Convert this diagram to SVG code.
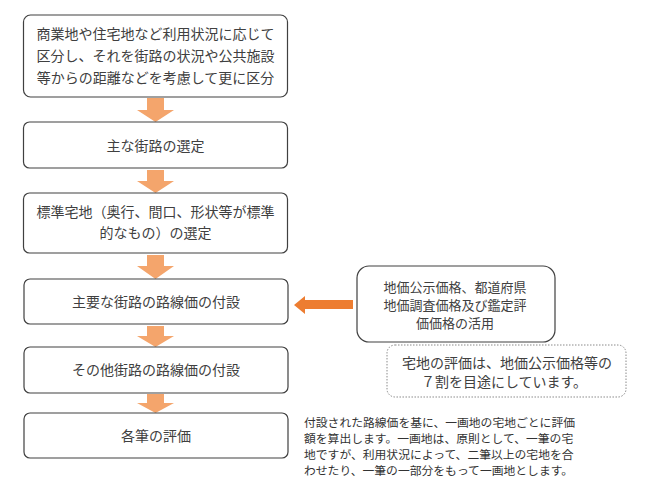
<svg xmlns="http://www.w3.org/2000/svg" width="650" height="482" viewBox="0 0 650 482">
<style>
.box{fill:#fff;stroke:#404040;stroke-width:1.2}
.dot{fill:#fff;stroke:#8a8a8a;stroke-width:1;stroke-dasharray:1.5 1.5}
.t{font-family:"Noto Sans CJK JP","Noto Sans CJK SC",sans-serif;font-size:14px;fill:#404040;text-anchor:middle;dominant-baseline:central}
.t2{font-size:13px}
.s{font-family:"Noto Sans CJK JP","Noto Sans CJK SC",sans-serif;font-size:11.8px;fill:#333;dominant-baseline:central}
.da{fill:#F4A56C}
.la{fill:#ED7D31}
</style>
<rect width="650" height="482" fill="#fff"/>
<g id="connectors">
<polygon class="da" points="147,98 164,98 164,110 174,110 155.5,122 137,110 147,110"/>
<polygon class="da" points="147,170 164,170 164,181 174,181 155.5,193 137,181 147,181"/>
<polygon class="da" points="147,255 164,255 164,266 174,266 155.5,279 137,266 147,266"/>
<polygon class="da" points="147,326 164,326 164,336 174,336 155.5,347 137,336 147,336"/>
<polygon class="da" points="147,394 164,394 164,403 174,403 155.5,413 137,403 147,403"/>
<polygon class="la" points="353,300 353,309 305,309 305,314 294,305 305,296 305,300"/>
</g>
<g id="n1">
<rect class="box" x="23.5" y="15" width="264" height="82" rx="7"/>
<text class="t" x="155.5" y="33">商業地や住宅地など利用状況に応じて</text>
<text class="t" x="155.5" y="55">区分し、それを街路の状況や公共施設</text>
<text class="t" x="155.5" y="77">等からの距離などを考慮して更に区分</text>
</g>
<g id="n2">
<rect class="box" x="23.5" y="122" width="264" height="46" rx="6"/>
<text class="t" x="155.5" y="145">主な街路の選定</text>
</g>
<g id="n3">
<rect class="box" x="23.5" y="193" width="264" height="60" rx="6"/>
<text class="t" x="155.5" y="211">標準宅地（奥行、間口、形状等が標準</text>
<text class="t" x="155.5" y="232">的なもの）の選定</text>
</g>
<g id="n4">
<rect class="box" x="24" y="279" width="264" height="45" rx="6"/>
<text class="t" x="156" y="301">主要な街路の路線価の付設</text>
</g>
<g id="n5">
<rect class="box" x="24" y="347" width="264" height="46" rx="6"/>
<text class="t" x="156" y="369">その他街路の路線価の付設</text>
</g>
<g id="n6">
<rect class="box" x="24" y="413" width="264" height="45" rx="6"/>
<text class="t" x="156" y="435">各筆の評価</text>
</g>
<g id="n7">
<rect class="box" x="357" y="266" width="198" height="76" rx="12"/>
<text class="t t2" x="455" y="286">地価公示価格、都道府県</text>
<text class="t t2" x="455" y="304">地価調査価格及び鑑定評</text>
<text class="t t2" x="455" y="322">価価格の活用</text>
</g>
<g id="n8">
<rect class="dot" x="387" y="345" width="239" height="52" rx="8"/>
<text class="t" x="507" y="362">宅地の評価は、地価公示価格等の</text>
<text class="t" x="504" y="381">７割を目途にしています。</text>
</g>
<g id="note">
<text class="s" x="304" y="421">付設された路線価を基に、一画地の宅地ごとに評価</text>
<text class="s" x="304" y="437">額を算出します。一画地は、原則として、一筆の宅</text>
<text class="s" x="304" y="453">地ですが、利用状況によって、二筆以上の宅地を合</text>
<text class="s" x="304" y="469">わせたり、一筆の一部分をもって一画地とします。</text>
</g>
</svg>
